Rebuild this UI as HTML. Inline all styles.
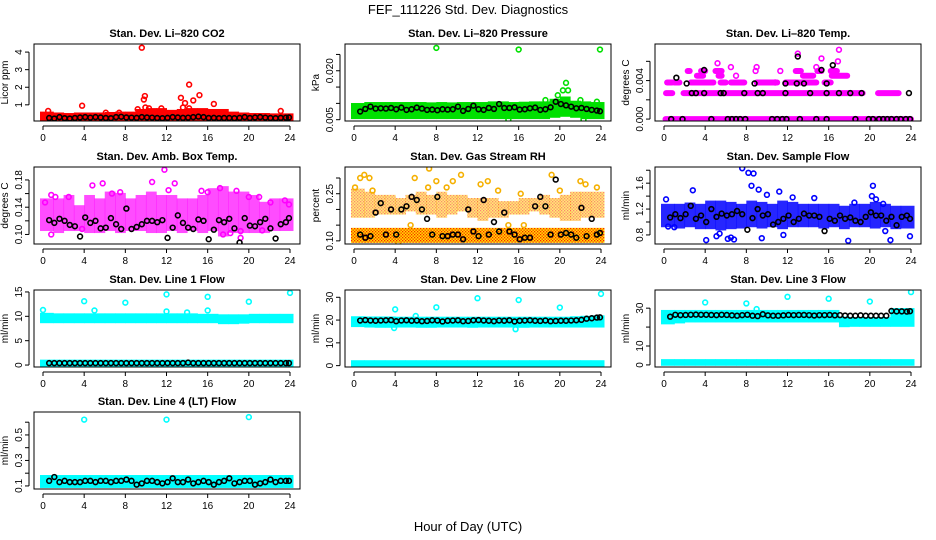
<!DOCTYPE html>
<html><head><meta charset="utf-8">
<style>
html,body{margin:0;padding:0;background:#fff;}
svg{display:block;font-family:"Liberation Sans",Arial,sans-serif;}
</style></head>
<body>
<svg id="chart" width="936" height="540" viewBox="0 0 936 540">
<defs>
<pattern id="rhPat" width="3" height="3" patternUnits="userSpaceOnUse">
<rect width="3" height="3" fill="#ffe000"/>
<rect x="0" y="0" width="1.3" height="1.3" fill="#ff2000"/>
<rect x="1.5" y="1.5" width="1.3" height="1.3" fill="#ff2000"/>
</pattern>
</defs>
<text x="468" y="14" text-anchor="middle" font-size="13">FEF_111226  Std. Dev. Diagnostics</text>
<text x="468" y="531" text-anchor="middle" font-size="13">Hour of Day (UTC)</text>
</svg>
<script>
// ---------- shared data ----------
const xTicks = [0,4,8,12,16,20,24];
const halfHours = [0.6,1.1,1.6,2.1,2.6,3.1,3.6,4.1,4.6,5.1,5.6,6.1,6.6,7.1,7.6,8.1,8.6,9.1,9.6,10.1,10.6,11.1,11.6,12.1,12.6,13.1,13.6,14.1,14.6,15.1,15.6,16.1,16.6,17.1,17.6,18.1,18.6,19.1,19.6,20.1,20.6,21.1,21.6,22.1,22.6,23.1,23.6,23.9];
const hourCenters = [0.5,1.5,2.5,3.5,4.5,5.5,6.5,7.5,8.5,9.5,10.5,11.5,12.5,13.5,14.5,15.5,16.5,17.5,18.5,19.5,20.5,21.5,22.5,23.5];

// CO2
const co2Black = [0.25,0.22,0.3,0.24,0.22,0.25,0.28,0.3,0.27,0.3,0.28,0.25,0.24,0.3,0.32,0.28,0.27,0.26,0.3,0.28,0.27,0.25,0.24,0.26,0.3,0.28,0.26,0.27,0.3,0.33,0.3,0.25,0.26,0.24,0.25,0.25,0.24,0.26,0.3,0.25,0.28,0.3,0.27,0.25,0.24,0.26,0.27,0.28];
const co2Lo = [0.12,0.12,0.12,0.12,0.12,0.12,0.12,0.12,0.12,0.12,0.12,0.12,0.12,0.12,0.12,0.12,0.12,0.12,0.12,0.12,0.12,0.12,0.12,0.12];
const co2Hi = [0.5,0.45,0.42,0.45,0.45,0.45,0.48,0.5,0.5,0.65,0.7,0.7,0.6,0.65,0.7,0.7,0.65,0.65,0.5,0.45,0.42,0.42,0.4,0.4];
const co2OutX = [9.6,9.8,9.9,9.95,10.3,3.8,13.4,13.6,13.8,14.2,14.6,15.2,16.6,11.5,0.5,23.1,14.2,6.1,7.4,9.2];
const co2OutY = [4.25,1.3,1.5,0.85,0.8,0.95,1.4,0.85,1.1,2.15,1.25,1.55,1.05,0.8,0.65,0.65,0.8,0.55,0.55,0.75];

// Pressure
const prBlack = [0.0075,0.0083,0.009,0.0084,0.0085,0.0084,0.0086,0.0082,0.0087,0.008,0.0082,0.0087,0.0084,0.008,0.0081,0.0079,0.0082,0.0081,0.0082,0.009,0.0077,0.0083,0.0093,0.0082,0.008,0.0086,0.0083,0.0098,0.0086,0.0086,0.0088,0.0081,0.0082,0.0085,0.0087,0.008,0.0082,0.0088,0.0105,0.0098,0.0094,0.009,0.0085,0.0086,0.0083,0.008,0.0078,0.0076];
const prLo = [0.0058,0.0058,0.0058,0.0058,0.0058,0.0058,0.0058,0.0058,0.0058,0.0058,0.0058,0.0058,0.0058,0.0058,0.0058,0.0058,0.0058,0.0058,0.0058,0.0062,0.0065,0.0062,0.0058,0.0058];
const prHi = [0.0095,0.0098,0.0098,0.0098,0.0098,0.0098,0.0098,0.0097,0.0098,0.0097,0.0098,0.0098,0.0098,0.01,0.01,0.0098,0.0099,0.01,0.01,0.0108,0.0115,0.0102,0.01,0.0098];
const prOutX = [8,16,23.9,20.6,20.3,20.8,19.8,22,15,22.3,18.6,23.6];
const prOutY = [0.027,0.0265,0.0265,0.0163,0.014,0.014,0.0125,0.011,0.005,0.005,0.011,0.0105];

// Li-820 temperature (discrete levels drawn as runs)
const tmSegLevel = [0,0.0027,0.0027,0.0027,0.0038,0.0038,0.0038,0.0038,0.0038,0.0038,0.0038,0.0038,0.0045,0.0045,0.0045,0.0045,0.005,0.005,0.005,0.005,0.005,0.005];
const tmSegStart = [0.15,0.2,1.9,20.8,0.3,2.6,5.5,6.5,9.0,11.8,15.6,1.0,3.2,5.3,13.5,16.3,2.3,3.6,5.0,12.8,14.9,16.2];
const tmSegEnd   = [24,0.8,19.3,22.8,0.8,4.8,6.0,7.8,11.0,14.8,16.2,1.5,3.8,5.6,14.5,17.8,2.5,4.0,5.6,13.3,15.3,16.8];
const tmOutX = [5.2,6.5,13,15.3,17,16.9,14.8,9,11.3,8.9,7.0,10.8];
const tmOutY = [0.0058,0.0054,0.0068,0.0063,0.0072,0.006,0.0054,0.0054,0.005,0.005,0.0045,0.0038];
const tmBlackX = [0.7,1.8,4.6,6.2,6.6,7,7.4,7.9,10.5,11,11.5,11.9,13.2,14.8,15.8,18.6,19.9,20.3,20.9,21.3,21.7,22.1,22.6,23,23.5,23.9,2.7,3.1,3.9,5.5,5.8,7.8,9.1,9.6,11.8,14.2,15.8,17,18.1,19.2,23.8,2.2,8.8,11.8,12.9,13.6,15.8,3.9,15.3,16.4,13,1.2];
const tmBlackY = [0,0,0,0,0,0,0,0,0,0,0,0,0,0,0,0,0,0,0,0,0,0,0,0,0,0,0.0027,0.0027,0.0027,0.0027,0.0027,0.0027,0.0027,0.0027,0.0027,0.0027,0.0027,0.0027,0.0027,0.0027,0.0027,0.0037,0.0037,0.0037,0.0037,0.0037,0.0037,0.0051,0.0051,0.0056,0.0065,0.0043];

// Amb box temp
const abBlack = [0.121,0.117,0.123,0.12,0.114,0.112,0.097,0.125,0.117,0.12,0.109,0.11,0.124,0.115,0.108,0.138,0.108,0.111,0.115,0.12,0.12,0.118,0.121,0.095,0.11,0.128,0.117,0.11,0.108,0.122,0.12,0.093,0.107,0.121,0.118,0.123,0.109,0.088,0.124,0.113,0.112,0.118,0.123,0.109,0.094,0.115,0.118,0.124];
const abLo = [0.108,0.105,0.108,0.108,0.105,0.105,0.108,0.105,0.108,0.108,0.105,0.105,0.108,0.105,0.108,0.105,0.108,0.1,0.105,0.105,0.105,0.105,0.108,0.108];
const abHi = [0.15,0.15,0.155,0.14,0.155,0.15,0.16,0.158,0.15,0.155,0.16,0.155,0.155,0.15,0.15,0.155,0.165,0.168,0.16,0.16,0.155,0.145,0.15,0.15];
const abOutX = [0.2,0.8,0.8,4.8,5.8,10.6,11.8,12.2,12.8,15.4,16,17.2,18.8,19.2,19.2,20,21,21.3,22.1,23.5,23.9,18.2,17.5,3.8,1.2,2.5,6.7,7.5];
const abOutY = [0.147,0.158,0.1,0.172,0.175,0.177,0.195,0.165,0.175,0.164,0.162,0.168,0.164,0.105,0.095,0.155,0.155,0.106,0.147,0.15,0.144,0.102,0.1,0.108,0.155,0.155,0.16,0.162];

// Gas stream RH
const rhBlack = [0.12,0.11,0.115,0.19,0.22,0.12,0.2,0.12,0.2,0.21,0.24,0.23,0.2,0.17,0.12,0.24,0.115,0.115,0.12,0.12,0.105,0.2,0.13,0.115,0.23,0.12,0.16,0.13,0.19,0.13,0.12,0.105,0.11,0.11,0.21,0.24,0.21,0.12,0.295,0.12,0.125,0.12,0.11,0.205,0.115,0.17,0.12,0.125];
const rhLo = [0.1,0.1,0.1,0.1,0.1,0.1,0.1,0.1,0.1,0.1,0.1,0.1,0.1,0.1,0.1,0.1,0.1,0.1,0.1,0.1,0.1,0.1,0.1,0.1];
const rhHi = [0.135,0.135,0.135,0.135,0.135,0.135,0.135,0.135,0.135,0.135,0.135,0.135,0.135,0.135,0.135,0.135,0.135,0.135,0.135,0.135,0.135,0.135,0.135,0.135];
const rhLo2 = [0.18,0.18,0.19,0.19,0.19,0.2,0.19,0.19,0.18,0.19,0.2,0.18,0.17,0.18,0.18,0.19,0.19,0.2,0.19,0.18,0.17,0.17,0.18,0.18];
const rhHi2 = [0.26,0.25,0.24,0.24,0.23,0.24,0.25,0.24,0.25,0.24,0.24,0.23,0.23,0.23,0.22,0.22,0.23,0.23,0.24,0.23,0.24,0.25,0.25,0.25];
const rhOutX = [0.1,0.6,1,1.5,1.8,5.9,7.3,7.2,9,9.6,10.4,8,12.3,13,14,16.2,19.2,20,22,22.5,23.6,4.3,5.5,15,16.5];
const rhOutY = [0.27,0.3,0.31,0.3,0.26,0.3,0.33,0.27,0.27,0.29,0.31,0.29,0.28,0.29,0.26,0.25,0.31,0.26,0.29,0.28,0.27,0.09,0.15,0.15,0.15];

// Sample flow
const sfBlack = [1.07,1.12,1.06,1.12,1.25,1.05,1.1,1.0,1.2,1.08,1.13,1.1,1.12,1.17,1.12,0.88,1.06,1.2,1.1,1.12,0.96,1.0,1.05,1.1,1.0,1.05,1.13,1.1,1.1,1.08,0.86,1.05,1.02,1.1,1.05,1.07,1.02,1.0,1.08,1.15,1.1,1.1,1.02,1.08,0.95,1.08,1.1,1.05];
const sfLo = [0.95,0.93,0.95,0.92,0.92,0.9,0.92,0.93,0.95,0.93,0.95,0.92,0.95,0.95,0.95,0.93,0.95,0.92,0.95,0.95,0.93,0.95,0.92,0.93];
const sfHi = [1.25,1.25,1.27,1.25,1.3,1.3,1.28,1.25,1.3,1.28,1.25,1.3,1.28,1.25,1.25,1.25,1.25,1.22,1.25,1.25,1.28,1.25,1.22,1.22];
const sfOutX = [0.2,0.4,1,2.8,4.1,5.1,5.4,6.2,6.5,6.8,7.6,8.2,8.7,8.5,9.2,9.5,10,11.2,11.6,12.5,17.9,18.5,20.3,20.2,20.6,21.3,22,21.5,23.9,14.6];
const sfOutY = [1.35,0.93,0.92,1.49,0.72,0.78,0.82,0.74,0.76,0.73,1.83,1.76,1.75,1.56,1.5,0.75,1.42,1.47,0.8,1.38,0.71,1.3,1.56,1.4,1.35,1.28,0.72,0.86,0.78,1.37];

// Line 1 flow
const l1Black = [0.4,0.4,0.4,0.4,0.4,0.4,0.4,0.4,0.4,0.4,0.4,0.4,0.4,0.4,0.4,0.4,0.4,0.4,0.4,0.4,0.4,0.4,0.4,0.4,0.4,0.4,0.4,0.5,0.4,0.4,0.4,0.4,0.4,0.4,0.4,0.4,0.4,0.4,0.4,0.4,0.4,0.4,0.4,0.4,0.4,0.4,0.4,0.4];
const l1Lo = [9.0,9.0,9.0,9.0,9.0,9.0,9.0,9.0,9.0,9.0,9.0,9.0,9.0,9.0,9.0,9.0,9.0,8.8,8.8,8.9,9.0,9.0,9.0,9.0];
const l1Hi = [10.3,10.2,10.2,10.2,10.2,10.2,10.2,10.2,10.2,10.2,10.2,10.2,10.2,10.2,10.2,10.1,10.1,10.0,10.0,10.0,10.1,10.1,10.1,10.1];
const l1Lo2 = [0.1,0.1,0.1,0.1,0.1,0.1,0.1,0.1,0.1,0.1,0.1,0.1,0.1,0.1,0.1,0.1,0.1,0.1,0.1,0.1,0.1,0.1,0.1,0.1];
const l1Hi2 = [0.7,0.7,0.7,0.7,0.7,0.7,0.7,0.7,0.7,0.7,0.7,0.7,0.7,0.7,0.7,0.7,0.7,0.7,0.7,0.7,0.7,0.7,0.7,0.7];
const l1OutX = [0,4,5,8,12,12,16,16,20,24,14];
const l1OutY = [11.3,13.1,11.2,12.8,14.5,11,14,11.2,13,14.8,10.8];

// Line 2 flow
const l2Black = [19.8,20,19.8,19.7,19.8,19.9,20,19.5,19.8,19.9,19.7,19.8,19.5,19.6,19.9,19.8,19.4,19.7,19.8,19.9,19.5,19.6,19.9,20,19.8,19.7,19.5,19.8,19.7,19.9,19.4,19.7,19.8,19.9,19.7,19.6,19.8,19.5,19.6,19.7,19.7,19.8,19.9,20.1,20.6,20.8,21.1,21.2];
const l2Lo = [17.8,17.6,17.5,17.5,17.6,17.6,17.5,17.5,17.6,17.6,17.6,17.5,17.6,17.6,17.6,17.6,17.5,17.6,17.6,17.6,17.6,17.6,17.6,17.6];
const l2Hi = [20.8,20.7,20.7,20.7,20.6,20.6,20.6,20.6,20.6,20.6,20.6,20.6,20.6,20.6,20.6,20.6,20.6,20.6,20.6,20.6,20.6,20.8,21.0,21.2];
const l2Lo2 = [0.3,0.3,0.3,0.3,0.3,0.3,0.3,0.3,0.3,0.3,0.3,0.3,0.3,0.3,0.3,0.3,0.3,0.3,0.3,0.3,0.3,0.3,0.3,0.3];
const l2Hi2 = [1.5,1.5,1.5,1.5,1.5,1.5,1.5,1.5,1.5,1.5,1.5,1.5,1.5,1.5,1.5,1.5,1.5,1.5,1.5,1.5,1.5,1.5,1.5,1.5];
const l2OutX = [4,8,12,16,20,24,6,3.9,15.7];
const l2OutY = [24.7,25.6,29.6,28.8,25.5,31.5,21.8,16.5,16];

// Line 3 flow
const l3Black = [25.5,26.5,26.3,26.4,26.5,26.6,26.5,26.5,26.4,26.3,26.5,26.4,26.2,26.0,26.3,26.5,26.0,25.8,26.8,26.2,26.0,26.0,26.2,26.4,26.3,26.4,26.4,26.3,26.1,26.3,26.3,26.4,26.2,26.3,26.1,26.0,26.0,26.2,26.0,26.0,26.0,26.0,26.0,28.5,28.3,28.3,28.2,28.4];
const l3Lo = [22.5,23.0,23.5,23.5,23.5,23.5,23.5,23.5,23.5,23.5,23.5,23.5,23.5,23.5,23.5,23.5,23.5,21.0,21.2,21.2,21.2,21.2,21.2,21.2];
const l3Hi = [28.0,28.0,28.0,28.0,28.0,28.0,28.0,28.0,28.0,28.0,28.0,28.0,28.0,28.0,28.0,28.0,28.0,24.5,24.2,24.2,24.2,24.2,29.0,29.0];
const l3Lo2 = [0.6,0.6,0.6,0.6,0.6,0.6,0.6,0.6,0.6,0.6,0.6,0.6,0.6,0.6,0.6,0.6,0.6,0.6,0.6,0.6,0.6,0.6,0.6,0.6];
const l3Hi2 = [2.0,2.0,2.0,2.0,2.0,2.0,2.0,2.0,2.0,2.0,2.0,2.0,2.0,2.0,2.0,2.0,2.0,2.0,2.0,2.0,2.0,2.0,2.0,2.0];
const l3OutX = [4,8,12,16,20,24,9];
const l3OutY = [33,32.5,36,35,33.5,38.5,29.5];

// Line 4 (LT) flow
const l4Black = [0.14,0.17,0.13,0.14,0.13,0.13,0.13,0.14,0.14,0.13,0.14,0.14,0.13,0.14,0.14,0.15,0.14,0.11,0.12,0.14,0.14,0.13,0.12,0.13,0.16,0.13,0.13,0.15,0.12,0.13,0.14,0.13,0.11,0.13,0.14,0.16,0.12,0.13,0.14,0.14,0.11,0.12,0.13,0.15,0.13,0.14,0.14,0.14];
const l4Lo = [0.1,0.1,0.1,0.1,0.1,0.1,0.1,0.1,0.1,0.1,0.1,0.1,0.1,0.1,0.1,0.1,0.1,0.1,0.1,0.1,0.1,0.1,0.1,0.1];
const l4Hi = [0.17,0.17,0.17,0.17,0.17,0.17,0.17,0.17,0.17,0.17,0.17,0.17,0.17,0.17,0.17,0.17,0.17,0.17,0.17,0.17,0.17,0.17,0.17,0.17];
const l4OutX = [4,12,20];
const l4OutY = [0.62,0.62,0.64];

// ---------- rendering ----------
const NS = 'http://www.w3.org/2000/svg';
const svg = document.getElementById('chart');
function mk(tag, attrs, parent){
  const e = document.createElementNS(NS, tag);
  for (const k in attrs) e.setAttribute(k, attrs[k]);
  (parent||svg).appendChild(e);
  return e;
}
function panel(o){
  const g = mk('g', {});
  
  
  const L=o.left, R=o.left+266, T=o.top, B=o.top+77;
  const xs = h => L + 9 + h*(247/24);
  const ys = v => B - (v - o.ymin)/(o.ymax - o.ymin)*(B - T);
  const t = mk('text', {x:(L+R)/2, y:T-7, 'text-anchor':'middle', 'font-size':11, 'font-weight':'bold'}, g);
  t.textContent = o.title;
  
  
  const clip = 'clip-' + o.name;
  const cp = mk('clipPath', {id: clip}, g);
  mk('rect', {x:L, y:T, width:R-L, height:B-T}, cp);
  const plot = mk('g', {'clip-path':'url(#'+clip+')'}, g);
  
  
  const col = o.color;
  (o.bands||[]).forEach(b=>{
    for (let i=0;i<hourCenters.length;i++){
      const x0 = xs(hourCenters[i]-0.5)-(i===0?3:0), x1 = xs(hourCenters[i]+0.5)+(i===hourCenters.length-1?3:0);
      const y0 = ys(b.hi[i])-2, y1 = ys(b.lo[i])+2;
      const r = mk('rect', {x:x0, y:y0, width:x1-x0+0.5, height:Math.max(1,y1-y0), fill:b.fill||col, opacity:b.op||1}, plot);
      
      
    }
  });
  if (o.segL){
    for (let i=0;i<o.segL.length;i++){
      const ln = mk('line', {x1:xs(o.segS[i]), x2:xs(o.segE[i]), y1:ys(o.segL[i]), y2:ys(o.segL[i]), stroke:col, 'stroke-width':6, 'stroke-linecap':'round'}, plot);
      
      
    }
  }
  (o.outX||[]).forEach((h,i)=>{
    const c = mk('circle', {cx:xs(h), cy:ys(o.outY[i]), r:2.4, fill:'none', stroke:o.outColor||col, 'stroke-width':1.6}, plot);
    
    
  });
  const bx = o.blackX || halfHours;
  o.black.forEach((v,i)=>{
    const c = mk('circle', {cx:xs(bx[i]), cy:ys(v), r:2.4, fill:'none', stroke:'#000', 'stroke-width':1.6}, plot);
    
    
  });
  const box = mk('rect', {x:L, y:T, width:R-L, height:B-T, fill:'none', stroke:'#000', 'stroke-width':1}, g);
  
  
  mk('line', {x1:xs(0), x2:xs(24), y1:B+5, y2:B+5, stroke:'#000'}, g);
  xTicks.forEach(h=>{
    mk('line', {x1:xs(h), x2:xs(h), y1:B+5, y2:B+9, stroke:'#000'}, g);
    const tx = mk('text', {x:xs(h), y:B+20, 'text-anchor':'middle', 'font-size':10}, g);
    tx.textContent = h;
    
    
  });
  const yt0 = ys(o.ticks[0]), yt1 = ys(o.ticks[o.ticks.length-1]);
  mk('line', {x1:L-5, x2:L-5, y1:yt0, y2:yt1, stroke:'#000'}, g);
  o.ticks.forEach((v,i)=>{
    mk('line', {x1:L-9, x2:L-5, y1:ys(v), y2:ys(v), stroke:'#000'}, g);
    if (o.labels[i] !== ''){
      const tx = mk('text', {x:L-12, y:ys(v), 'text-anchor':'middle', 'font-size':10, transform:'rotate(-90 '+(L-12)+' '+ys(v)+')'}, g);
      tx.textContent = o.labels[i];
      
      
    }
  });
  const yl = mk('text', {x:L-26, y:(T+B)/2, 'text-anchor':'middle', 'font-size':10, transform:'rotate(-90 '+(L-26)+' '+(T+B)/2+')'}, g);
  yl.textContent = o.ylab;
  
  
}
const cols = [34,345,655], rows = [44,167,290,412];
panel({name:'co2', title:'Stan. Dev. Li–820 CO2', ylab:'Licor ppm', left:cols[0], top:rows[0], ymin:0.08, ymax:4.46, color:'#ff0000',
  ticks:[1,2,3,4], labels:['1','2','3','4'], bands:[{lo:co2Lo,hi:co2Hi}], outX:co2OutX, outY:co2OutY, black:co2Black});
panel({name:'pressure', title:'Stan. Dev. Li–820 Pressure', ylab:'kPa', left:cols[1], top:rows[0], ymin:0.0046, ymax:0.0282, color:'#00e000',
  ticks:[0.005,0.01,0.015,0.02,0.025], labels:['0.005','','','0.020',''], bands:[{lo:prLo,hi:prHi}], outX:prOutX, outY:prOutY, black:prBlack});
panel({name:'li820-temp', title:'Stan. Dev. Li–820 Temp.', ylab:'degrees C', left:cols[2], top:rows[0], ymin:-0.0002, ymax:0.0078, color:'#ff00ff',
  ticks:[0,0.002,0.004,0.006], labels:['0.000','','0.004',''], segL:tmSegLevel, segS:tmSegStart, segE:tmSegEnd, outX:tmOutX, outY:tmOutY, black:tmBlackY, blackX:tmBlackX});
panel({name:'amb-box-temp', title:'Stan. Dev. Amb. Box Temp.', ylab:'degrees C', left:cols[0], top:rows[1], ymin:0.086, ymax:0.199, color:'#ff00ff',
  ticks:[0.1,0.12,0.14,0.16,0.18], labels:['0.10','','0.14','','0.18'], bands:[{lo:abLo,hi:abHi,op:0.7}], outX:abOutX, outY:abOutY, black:abBlack});
panel({name:'gas-rh', title:'Stan. Dev. Gas Stream RH', ylab:'percent', left:cols[1], top:rows[1], ymin:0.09, ymax:0.335, color:'url(#rhPat)', outColor:'#f5b000',
  ticks:[0.1,0.15,0.2,0.25,0.3], labels:['0.10','','','0.25',''], bands:[{lo:rhLo,hi:rhHi},{lo:rhLo2,hi:rhHi2,op:0.55}], outX:rhOutX, outY:rhOutY, black:rhBlack});
panel({name:'sample-flow', title:'Stan. Dev. Sample Flow', ylab:'ml/min', left:cols[2], top:rows[1], ymin:0.66, ymax:1.85, color:'#0000ff',
  ticks:[0.8,1.0,1.2,1.4,1.6,1.8], labels:['0.8','','1.2','','1.6',''], bands:[{lo:sfLo,hi:sfHi,op:0.85}], outX:sfOutX, outY:sfOutY, black:sfBlack});
panel({name:'line1-flow', title:'Stan. Dev. Line 1 Flow', ylab:'ml/min', left:cols[0], top:rows[2], ymin:-0.4, ymax:15.4, color:'#00ffff',
  ticks:[0,5,10,15], labels:['0','5','10','15'], bands:[{lo:l1Lo,hi:l1Hi},{lo:l1Lo2,hi:l1Hi2}], outX:l1OutX, outY:l1OutY, black:l1Black});
panel({name:'line2-flow', title:'Stan. Dev. Line 2 Flow', ylab:'ml/min', left:cols[1], top:rows[2], ymin:-0.6, ymax:33.2, color:'#00ffff',
  ticks:[0,10,20,30], labels:['0','10','20','30'], bands:[{lo:l2Lo,hi:l2Hi},{lo:l2Lo2,hi:l2Hi2}], outX:l2OutX, outY:l2OutY, black:l2Black});
panel({name:'line3-flow', title:'Stan. Dev. Line 3 Flow', ylab:'ml/min', left:cols[2], top:rows[2], ymin:-1.1, ymax:39.6, color:'#00ffff',
  ticks:[0,10,20,30], labels:['0','10','','30'], bands:[{lo:l3Lo,hi:l3Hi},{lo:l3Lo2,hi:l3Hi2}], outX:l3OutX, outY:l3OutY, black:l3Black});
panel({name:'line4-flow', title:'Stan. Dev. Line 4 (LT) Flow', ylab:'ml/min', left:cols[0], top:rows[3], ymin:0.076, ymax:0.68, color:'#00ffff',
  ticks:[0.1,0.2,0.3,0.4,0.5,0.6], labels:['0.1','','0.3','','0.5',''], bands:[{lo:l4Lo,hi:l4Hi}], outX:l4OutX, outY:l4OutY, black:l4Black});
</script>
</body></html>
